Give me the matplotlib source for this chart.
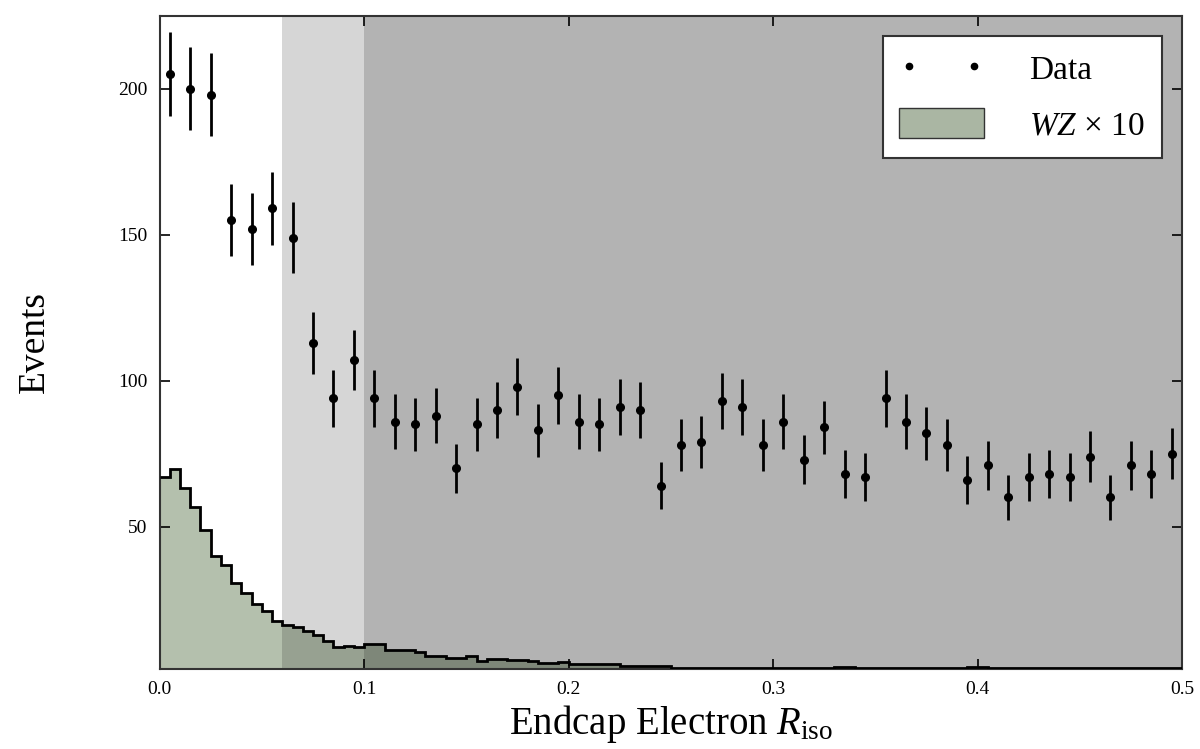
import numpy as np
import matplotlib
matplotlib.use("Agg")
import matplotlib.pyplot as plt
from matplotlib.lines import Line2D
from matplotlib.patches import Patch

plt.rcParams['font.family'] = ['Liberation Serif', 'DejaVu Serif']
plt.rcParams['mathtext.fontset'] = 'custom'
plt.rcParams['mathtext.rm'] = 'Liberation Serif'
plt.rcParams['mathtext.it'] = 'Liberation Serif:italic'

# data: counts in bins of 0.01
data_centers = np.arange(0.005, 0.5, 0.01)
data_counts = [205, 200, 198, 155, 152, 159, 149, 113, 94, 107,
               94, 86, 85, 88, 70, 85, 90, 98, 83, 95,
               86, 85, 91, 90, 64, 78, 79, 93, 91, 78,
               86, 73, 84, 68, 67, 94, 86, 82, 78, 66,
               71, 60, 67, 68, 67, 74, 60, 71, 68, 75]

# WZ x 10, bins of 0.005
wz_edges = np.linspace(0.0, 0.5, 101)
wz_counts = [67.0, 69.8, 63.3, 56.7, 49.0, 40.1, 37.0, 30.7, 27.3, 23.6,
             21.0, 17.8, 16.4, 15.5, 14.1, 13.0, 10.7, 8.8, 9.0, 8.8,
             9.8, 9.8, 7.9, 7.9, 7.9, 7.0, 5.8, 5.8, 5.0, 5.0,
             5.8, 3.9, 4.8, 4.8, 4.4, 4.4, 3.9, 3.3, 3.3, 3.7,
             3.1, 3.1, 3.1, 3.1, 3.1, 2.2, 2.2, 2.2, 2.2, 2.2,
             1.7, 1.6, 1.6, 1.7, 1.6, 1.6, 1.5, 1.6, 1.6, 1.7,
             1.6, 1.5, 1.6, 1.6, 1.5, 1.6, 1.9, 2.0, 1.6, 1.5,
             1.6, 1.6, 1.5, 1.5, 1.6, 1.5, 1.5, 1.6, 1.5, 1.9,
             2.0, 1.5, 1.5, 1.6, 1.5, 1.5, 1.5, 1.6, 1.5, 1.5,
             1.5, 1.6, 1.5, 1.5, 1.5, 1.5, 1.5, 1.6, 1.5, 1.5]

fig = plt.figure(figsize=(12, 7.49), dpi=100)
ax = fig.add_axes([0.133, 0.107, 0.852, 0.872])

ax.stairs(wz_counts, wz_edges, baseline=0, fill=True, color='#b4c0ad', zorder=1)
ax.stairs(wz_counts, wz_edges, baseline=None, color='black', lw=2.0, zorder=3)

# shaded regions
ax.axvspan(0.06, 0.5, color='black', alpha=0.16, lw=0, zorder=2)
ax.axvspan(0.1, 0.5, color='black', alpha=0.16, lw=0, zorder=2)

ax.errorbar(data_centers, data_counts, yerr=np.sqrt(data_counts), fmt='o',
            color='black', ms=5.5, elinewidth=2.0, capsize=0, zorder=4)

ax.set_xlim(0, 0.5)
ax.set_ylim(1.3, 225)
ax.set_xticks([0.0, 0.1, 0.2, 0.3, 0.4, 0.5])
ax.set_xticklabels(['0.0', '0.1', '0.2', '0.3', '0.4', '0.5'])
ax.set_yticks([50, 100, 150, 200])
ax.tick_params(direction='in', top=True, right=True, length=7, width=1.2,
               labelsize=14, pad=9)
for s in ax.spines.values():
    s.set_linewidth(1.5)
    s.set_color('#333333')

ax.set_xlabel('Endcap Electron $R_\\mathrm{iso}$', fontsize=28, labelpad=3)
ax.set_ylabel('Events', fontsize=27)
ax.yaxis.set_label_coords(-0.105, 0.5)

handles = [Line2D([], [], marker='o', ms=4.5, ls='none', color='black'),
           Patch(facecolor='#aab6a3', edgecolor='#333333')]
leg = ax.legend(handles, ['Data', '$WZ$ \u00d7 10'], loc='upper right',
                numpoints=2, fontsize=24, fancybox=False, framealpha=1,
                edgecolor='#333333', borderaxespad=0.6, handlelength=2.55,
                handleheight=1.0, handletextpad=1.35, borderpad=0.5,
                labelspacing=0.66)
leg.get_frame().set_linewidth(1.5)
leg.set_zorder(10)

fig.savefig('out.png', dpi=100)
